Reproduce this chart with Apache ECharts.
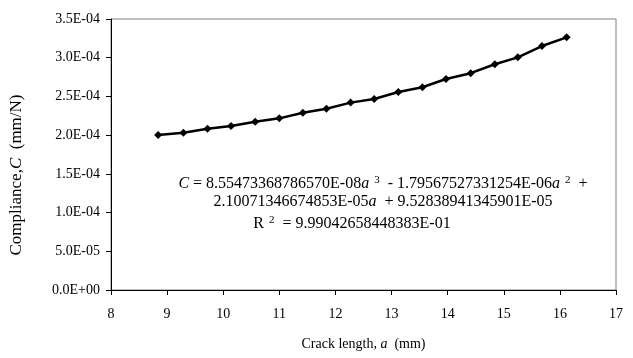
<!DOCTYPE html>
<html>
<head>
<meta charset="utf-8">
<script src="https://cdn.jsdelivr.net/npm/echarts@6/dist/echarts.min.js"></script>
<style>html,body{margin:0;padding:0;background:#fff}#c{width:633px;height:358px}</style>
</head>
<body>
<div id="c"></div>
<script>
var crackLength = [8.84, 9.29, 9.72, 10.14, 10.57, 11.00, 11.42, 11.84, 12.27, 12.69, 13.12, 13.55, 13.97, 14.41, 14.84, 15.25, 15.68, 16.12];
var compliance = [2.002e-4, 2.032e-4, 2.083e-4, 2.118e-4, 2.174e-4, 2.217e-4, 2.290e-4, 2.340e-4, 2.420e-4, 2.467e-4, 2.557e-4, 2.618e-4, 2.725e-4, 2.800e-4, 2.915e-4, 3.005e-4, 3.151e-4, 3.263e-4];
var eqLine1 = ['C', ' = 8.55473368786570E-08', 'a', '3', ' - 1.79567527331254E-06', 'a', '2', ' +'];
var eqLine2 = ['2.10071346674853E-05', 'a', '  + 9.52838941345901E-05'];
var eqLine3 = ['R', '2', ' = 9.99042658448383E-01'];

var FONT = '"Liberation Serif", "Times New Roman", serif';
var chart = echarts.init(document.getElementById('c'));
var pts = crackLength.map(function (x, i) { return [x, compliance[i]]; });

function fmtY(v) {
  if (v === 0) return '0.0E+00';
  var s = v.toExponential(1).split('e');
  var e = parseInt(s[1], 10);
  var es = (e < 0 ? '-' : '+') + (Math.abs(e) < 10 ? '0' : '') + Math.abs(e);
  return s[0] + 'E' + es;
}
function mkRich(fs) {
  return {
    i: { fontFamily: FONT, fontSize: fs, fontStyle: 'italic', fill: '#000', color: '#000' },
    n: { fontFamily: FONT, fontSize: fs, fill: '#000', color: '#000' },
    sup: { fontFamily: FONT, fontSize: Math.round(fs * 0.7), fill: '#000', color: '#000', verticalAlign: 'top', padding: [0, 4, 7, 5] }
  };
}
var richAxis = mkRich(14);
var richEq = mkRich(16);
var richY = mkRich(17);
var line1 = '{i|' + eqLine1[0] + '}{n|' + eqLine1[1] + '}{i|' + eqLine1[2] + '}{sup|' + eqLine1[3] + '}{n|' + eqLine1[4] + '}{i|' + eqLine1[5] + '}{sup|' + eqLine1[6] + '}{n|' + eqLine1[7] + '}';
var line2 = '{n|' + eqLine2[0] + '}{i|' + eqLine2[1] + '}{n|' + eqLine2[2] + '}';
var line3 = '{n|' + eqLine3[0] + '}{sup|' + eqLine3[1] + '}{n|' + eqLine3[2] + '}';

chart.setOption({
  animation: false,
  backgroundColor: '#fff',
  grid: { left: 111, right: 17, top: 19, bottom: 68, show: true, borderColor: '#808080', borderWidth: 1 },
  xAxis: {
    type: 'value', min: 8, max: 17, interval: 1,
    axisLine: { show: true, onZero: false, lineStyle: { color: '#000', width: 1 } },
    axisTick: { show: true, inside: false, length: 5, lineStyle: { color: '#000' } },
    splitLine: { show: false },
    axisLabel: { fontFamily: FONT, fontSize: 14, color: '#000', margin: 17 },
    name: '{n|Crack length, }{i|a}{n|  (mm)}',
    nameLocation: 'middle', nameGap: 47,
    nameTextStyle: { rich: richAxis }
  },
  yAxis: {
    type: 'value', min: 0, max: 3.5e-4, interval: 5e-5,
    axisLine: { show: true, onZero: false, lineStyle: { color: '#000', width: 1 } },
    axisTick: { show: true, inside: false, length: 5, lineStyle: { color: '#000' } },
    splitLine: { show: false },
    axisLabel: { fontFamily: FONT, fontSize: 14, color: '#000', margin: 11, formatter: fmtY }
  },
  series: [{
    type: 'line', data: pts,
    symbol: 'diamond', symbolSize: 8,
    itemStyle: { color: '#000' },
    lineStyle: { color: '#000', width: 2.5 }
  }],
  graphic: [
    { type: 'text', x: 17, y: 175, rotation: Math.PI / 2, style: { text: '{n|Compliance,}{i|C}{n|  (mm/N)}', rich: richY, align: 'center', verticalAlign: 'middle' } },
    { type: 'text', x: 383, y: 184, style: { text: line1, rich: richEq, align: 'center', verticalAlign: 'middle' } },
    { type: 'text', x: 383, y: 202, style: { text: line2, rich: richEq, align: 'center', verticalAlign: 'middle' } },
    { type: 'text', x: 352, y: 224, style: { text: line3, rich: richEq, align: 'center', verticalAlign: 'middle' } }
  ]
});
</script>
</body>
</html>
